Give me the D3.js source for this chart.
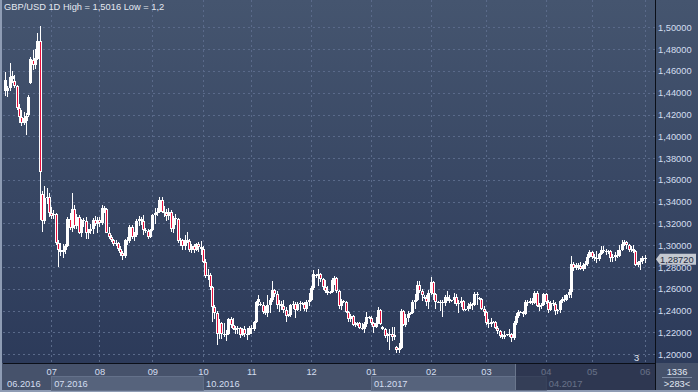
<!DOCTYPE html>
<html><head><meta charset="utf-8">
<script src="https://cdn.jsdelivr.net/npm/d3@7"></script>
<style>html,body{margin:0;padding:0;background:#2e3c5a;}svg{display:block}</style>
</head><body>
<svg id="c" width="698" height="392"></svg>
<script>
// ---- data: GBP/USD daily bars, 03.06.2016 - 01.06.2017 ----
const open = [
1.4420,1.4412,1.4440,1.4530,1.4510,1.4465,1.4262,1.4180,1.4120,1.4140,1.4200,1.4486,1.4700,1.4655,1.4706,1.4877,1.3470,1.3225,1.3430,1.3440,
1.3300,1.3280,1.3290,1.3025,1.2960,1.2940,1.2960,1.2990,1.3240,1.3160,1.3335,1.3180,1.3260,1.3110,1.3230,1.3220,1.3115,1.3130,1.3145,1.3230,1.3195,
1.3235,1.3200,1.3345,1.3330,1.3115,1.3080,1.3045,1.3010,1.3020,1.2970,1.2930,1.2905,1.3050,1.3035,1.3170,1.3080,1.3090,1.3220,1.3240,1.3220,1.3140,1.3130,1.3080,
1.3140,1.3280,1.3300,1.3310,1.3420,1.3310,1.3300,1.3270,1.3310,1.3150,1.3250,1.3240,1.3040,1.3050,1.2990,1.3050,1.3040,1.2960,1.2990,1.2960,1.3010,1.2980,
1.2970,1.2850,1.2720,1.2730,1.2620,1.2430,1.2380,1.2190,1.2290,1.2190,1.2180,1.2190,1.2320,1.2270,1.2230,1.2230,1.2240,1.2180,1.2230,1.2190,1.2190,
1.2240,1.2230,1.2300,1.2480,1.2460,1.2450,1.2390,1.2380,1.2450,1.2500,1.2590,1.2550,1.2450,1.2460,1.2440,1.2410,1.2350,1.2360,1.2450,1.2460,1.2410,1.2460,1.2470,1.2460,1.2420,1.2480,
1.2500,1.2610,1.2720,1.2730,1.2740,1.2690,1.2620,1.2580,1.2560,1.2570,1.2680,1.2700,1.2580,1.2440,1.2490,1.2480,1.2390,1.2320,1.2350,1.2270,1.2280,1.2285,1.2240,1.2230,1.2280,1.2340,
1.2330,1.2290,1.2250,1.2290,1.2410,1.2250,1.2230,1.2170,1.2180,1.2190,1.2160,1.2070,1.2040,1.2060,1.2400,1.2270,1.2330,1.2370,1.2380,1.2480,1.2500,1.2640,1.2580,1.2530,1.2520,1.2480,
1.2560,1.2660,1.2550,1.2480,1.2475,1.2480,1.2470,1.2530,1.2510,1.2490,1.2495,1.2530,1.2460,1.2470,1.2490,1.2410,1.2415,1.2440,1.2460,1.2450,1.2550,1.2520,1.2510,1.2420,
1.2390,1.2290,1.2280,1.2300,1.2295,1.2240,1.2210,1.2170,1.2160,1.2180,1.2185,1.2190,1.2150,1.2290,1.2350,1.2390,1.2385,1.2370,1.2480,1.2475,1.2490,1.2470,1.2560,1.2440,1.2445,1.2450,
1.2550,1.2480,1.2410,1.2470,1.2460,1.2400,1.2410,1.2490,1.2510,1.2500,1.2540,1.2570,1.2830,1.2790,1.2815,1.2810,1.2780,1.2820,1.2825,1.2890,
1.2940,1.2890,1.2880,1.2870,1.2920,1.2960,1.2950,1.2940,1.2945,1.2880,1.2890,1.2910,1.2900,1.2960,1.3010,1.3030,1.3000,1.2960,1.2970,1.2950,1.2820,1.2850,1.2860,
1.2880];
const high = [
1.4590,1.4460,1.4675,1.4600,1.4560,1.4475,1.4300,1.4240,1.4220,1.4210,1.4380,1.4730,1.4790,1.4800,1.4950,1.5016,1.3500,1.3540,1.3530,1.3480,
1.3350,1.3320,1.3300,1.3050,1.3020,1.3010,1.3010,1.3260,1.3300,1.3480,1.3370,1.3290,1.3280,1.3240,1.3250,1.3260,1.3150,1.3200,1.3250,1.3270,1.3260,
1.3260,1.3370,1.3360,1.3340,1.3170,1.3090,1.3060,1.3050,1.3030,1.2990,1.2945,1.3060,1.3080,1.3185,1.3190,1.3120,1.3240,1.3270,1.3260,1.3280,1.3160,1.3150,1.3150,
1.3290,1.3340,1.3340,1.3445,1.3440,1.3360,1.3330,1.3340,1.3320,1.3270,1.3290,1.3250,1.3070,1.3060,1.3090,1.3120,1.3060,1.3010,1.3010,1.3020,1.3030,1.3040,
1.2990,1.2870,1.2780,1.2745,1.2630,1.2450,1.2400,1.2320,1.2300,1.2290,1.2220,1.2330,1.2340,1.2330,1.2260,1.2260,1.2250,1.2240,1.2260,1.2240,1.2260,
1.2270,1.2310,1.2490,1.2540,1.2480,1.2480,1.2440,1.2545,1.2520,1.2670,1.2600,1.2580,1.2500,1.2490,1.2500,1.2430,1.2370,1.2460,1.2490,1.2480,1.2480,1.2490,1.2480,1.2480,1.2500,1.2560,
1.2630,1.2775,1.2740,1.2780,1.2750,1.2700,1.2680,1.2630,1.2580,1.2700,1.2720,1.2710,1.2590,1.2510,1.2500,1.2490,1.2400,1.2370,1.2360,1.2300,1.2300,1.2300,1.2290,1.2300,1.2390,1.2350,
1.2350,1.2300,1.2340,1.2430,1.2420,1.2260,1.2240,1.2200,1.2230,1.2250,1.2250,1.2080,1.2100,1.2415,1.2410,1.2370,1.2400,1.2390,1.2500,1.2550,1.2670,1.2670,1.2600,1.2540,1.2540,1.2590,
1.2710,1.2670,1.2560,1.2490,1.2500,1.2500,1.2540,1.2580,1.2540,1.2500,1.2560,1.2550,1.2500,1.2530,1.2500,1.2420,1.2470,1.2480,1.2470,1.2570,1.2570,1.2530,1.2520,1.2440,
1.2400,1.2320,1.2330,1.2310,1.2310,1.2260,1.2220,1.2190,1.2210,1.2190,1.2230,1.2200,1.2310,1.2380,1.2410,1.2400,1.2400,1.2500,1.2500,1.2520,1.2520,1.2580,1.2580,1.2470,1.2470,1.2560,
1.2560,1.2500,1.2490,1.2500,1.2480,1.2420,1.2500,1.2530,1.2540,1.2550,1.2600,1.2905,1.2850,1.2840,1.2840,1.2850,1.2840,1.2860,1.2920,1.2960,
1.2950,1.2920,1.2950,1.2930,1.2990,1.2990,1.2970,1.2960,1.2960,1.2920,1.2940,1.2960,1.3000,1.3050,1.3045,1.3040,1.3010,1.2990,1.3000,1.2960,1.2860,1.2880,1.2900,
1.2910];
const low = [
1.4370,1.4358,1.4420,1.4490,1.4440,1.4240,1.4120,1.4090,1.4100,1.4010,1.4180,1.4480,1.4610,1.4620,1.4700,1.3230,1.3120,1.3200,1.3380,1.3260,
1.3240,1.3240,1.3000,1.2798,1.2900,1.2880,1.2920,1.2980,1.3140,1.3120,1.3150,1.3150,1.3100,1.3080,1.3170,1.3060,1.3060,1.3100,1.3100,1.3180,1.3110,
1.3170,1.3190,1.3300,1.3110,1.3060,1.3030,1.2995,1.2990,1.2950,1.2900,1.2865,1.2880,1.3000,1.3020,1.3060,1.3040,1.3080,1.3180,1.3190,1.3090,1.3110,1.3060,1.3070,
1.3130,1.3200,1.3270,1.3300,1.3300,1.3260,1.3220,1.3230,1.3120,1.3110,1.3190,1.3020,1.2990,1.2960,1.2960,1.3020,1.2940,1.2930,1.2930,1.2950,1.2940,1.2910,
1.2840,1.2700,1.2680,1.2590,1.2300,1.2320,1.2085,1.2140,1.2140,1.2160,1.2120,1.2180,1.2240,1.2220,1.2190,1.2190,1.2150,1.2170,1.2160,1.2130,1.2180,
1.2190,1.2210,1.2290,1.2440,1.2440,1.2370,1.2360,1.2340,1.2380,1.2480,1.2530,1.2420,1.2390,1.2410,1.2380,1.2300,1.2340,1.2340,1.2420,1.2330,1.2400,1.2400,1.2450,1.2400,1.2390,1.2440,
1.2490,1.2590,1.2700,1.2630,1.2660,1.2590,1.2560,1.2540,1.2550,1.2560,1.2640,1.2560,1.2420,1.2410,1.2470,1.2380,1.2300,1.2300,1.2260,1.2250,1.2260,1.2230,1.2220,1.2200,1.2250,1.2320,
1.2270,1.2200,1.2240,1.2280,1.2270,1.2220,1.2150,1.2110,1.2040,1.2120,1.2130,1.2010,1.2009,1.2050,1.2260,1.2250,1.2300,1.2360,1.2370,1.2420,1.2490,1.2560,1.2490,1.2510,1.2440,1.2420,
1.2540,1.2500,1.2420,1.2470,1.2400,1.2345,1.2440,1.2490,1.2470,1.2480,1.2460,1.2440,1.2380,1.2430,1.2400,1.2400,1.2400,1.2420,1.2410,1.2440,1.2450,1.2500,1.2410,1.2350,
1.2270,1.2240,1.2250,1.2290,1.2230,1.2190,1.2150,1.2140,1.2140,1.2170,1.2160,1.2110,1.2130,1.2270,1.2330,1.2380,1.2340,1.2360,1.2440,1.2460,1.2450,1.2460,1.2430,1.2400,1.2420,1.2440,
1.2460,1.2380,1.2400,1.2440,1.2360,1.2370,1.2380,1.2470,1.2480,1.2490,1.2520,1.2520,1.2760,1.2770,1.2770,1.2770,1.2760,1.2780,1.2810,1.2880,
1.2870,1.2860,1.2840,1.2860,1.2910,1.2930,1.2910,1.2920,1.2850,1.2850,1.2860,1.2880,1.2890,1.2950,1.2990,1.2970,1.2940,1.2940,1.2930,1.2810,1.2800,1.2770,1.2830,
1.2840];
const close = [
1.4515,1.4440,1.4547,1.4555,1.4465,1.4262,1.4180,1.4120,1.4165,1.4190,1.4358,1.4706,1.4650,1.4718,1.4877,1.3675,1.3225,1.3430,1.3440,1.3300,
1.3270,1.3290,1.3025,1.2960,1.2940,1.2960,1.2990,1.3240,1.3160,1.3335,1.3180,1.3260,1.3110,1.3230,1.3220,1.3115,1.3130,1.3145,1.3230,1.3195,1.3235,
1.3200,1.3345,1.3330,1.3115,1.3080,1.3045,1.3010,1.3020,1.2970,1.2930,1.2905,1.3050,1.3035,1.3170,1.3080,1.3090,1.3220,1.3240,1.3220,1.3140,1.3130,1.3080,1.3140,
1.3280,1.3300,1.3310,1.3420,1.3310,1.3300,1.3270,1.3310,1.3150,1.3250,1.3240,1.3040,1.3050,1.2990,1.3050,1.3040,1.2960,1.2990,1.2960,1.3010,1.2980,1.2970,
1.2850,1.2720,1.2730,1.2620,1.2430,1.2380,1.2190,1.2290,1.2190,1.2180,1.2190,1.2320,1.2270,1.2230,1.2230,1.2240,1.2180,1.2230,1.2190,1.2190,1.2240,
1.2230,1.2300,1.2480,1.2510,1.2450,1.2390,1.2380,1.2450,1.2500,1.2590,1.2550,1.2450,1.2460,1.2440,1.2410,1.2350,1.2360,1.2450,1.2460,1.2410,1.2460,1.2470,1.2460,1.2420,1.2480,1.2500,
1.2610,1.2740,1.2730,1.2740,1.2690,1.2620,1.2580,1.2560,1.2570,1.2680,1.2700,1.2580,1.2440,1.2490,1.2480,1.2390,1.2320,1.2350,1.2270,1.2280,1.2285,1.2240,1.2230,1.2280,1.2340,1.2330,
1.2290,1.2250,1.2290,1.2410,1.2280,1.2230,1.2170,1.2180,1.2190,1.2160,1.2180,1.2040,1.2060,1.2400,1.2270,1.2330,1.2370,1.2380,1.2480,1.2500,1.2640,1.2580,1.2540,1.2520,1.2480,1.2560,
1.2660,1.2550,1.2480,1.2475,1.2480,1.2470,1.2530,1.2510,1.2490,1.2495,1.2530,1.2460,1.2470,1.2490,1.2410,1.2415,1.2440,1.2460,1.2450,1.2550,1.2540,1.2510,1.2420,1.2390,
1.2290,1.2280,1.2300,1.2295,1.2240,1.2210,1.2170,1.2160,1.2180,1.2185,1.2190,1.2150,1.2290,1.2350,1.2390,1.2385,1.2370,1.2480,1.2475,1.2490,1.2470,1.2560,1.2440,1.2445,1.2450,1.2550,
1.2480,1.2410,1.2470,1.2460,1.2400,1.2410,1.2490,1.2510,1.2500,1.2540,1.2570,1.2830,1.2790,1.2815,1.2810,1.2780,1.2820,1.2825,1.2890,1.2940,
1.2890,1.2880,1.2870,1.2920,1.2960,1.2950,1.2940,1.2945,1.2880,1.2890,1.2910,1.2900,1.2960,1.3010,1.3030,1.3000,1.2960,1.2970,1.2950,1.2820,1.2850,1.2860,1.2880,
1.2872];
const monthTicks  = [20,41,64,86,107,133,159,185,209,235,255,278];
const monthLabels = ['07','08','09','10','11','12','01','02','03','04','05','06'];
const quarterTicks  = [0,20,86,159,235];
const quarterLabels = ['06.2016','07.2016','10.2016','01.2017','04.2017'];
const priceTicks = [1.20,1.22,1.24,1.26,1.28,1.30,1.32,1.34,1.36,1.38,1.40,1.42,1.44,1.46,1.48,1.50];
const title = 'GBP/USD 1D High = 1,5016 Low = 1,2';
const lastPrice = 1.28720;
const barsTotal = 283;

// ---- drawing ----
const W = 698, H = 392;
const L = 3, R = 655, B = 363;
const FONT = '"Liberation Sans", Arial, sans-serif';
const svg = d3.select('#c');
const defs = svg.append('defs');
const gr = defs.append('linearGradient').attr('id','bg').attr('x1',0).attr('y1',0).attr('x2',0).attr('y2',1);
gr.append('stop').attr('offset','0%').attr('stop-color','#45556f');
gr.append('stop').attr('offset','100%').attr('stop-color','#2a3858');

svg.append('rect').attr('width',W).attr('height',H).attr('fill','url(#bg)');
// bottom axis strip
svg.append('rect').attr('x',0).attr('y',B).attr('width',W).attr('height',H-B).attr('fill','#46526b');

const x = d3.scaleLinear().domain([-0.5, barsTotal-0.5]).range([L+1, R]);
const y = d3.scaleLinear().domain([1.2, 1.5]).range([354.3, 27.3]);
const px = v => Math.round(v) + 0.5;

// grid
const grid = svg.append('g');
grid.selectAll('line.h').data(priceTicks).join('line')
  .attr('x1',L).attr('x2',R).attr('y1',d=>px(y(d))).attr('y2',d=>px(y(d)))
  .attr('stroke','#5a6a8a').attr('stroke-dasharray','2,3');
grid.selectAll('line.v').data(monthTicks).join('line')
  .attr('y1',0).attr('y2',B).attr('x1',d=>px(x(d))).attr('x2',d=>px(x(d)))
  .attr('stroke','#5a6a8a').attr('stroke-dasharray','2,3');

// candles
const idx = d3.range(close.length);
const cg = svg.append('g').attr('shape-rendering','crispEdges');
cg.selectAll('line.w').data(idx).join('line')
  .attr('x1',i=>Math.round(x(i))+0.5).attr('x2',i=>Math.round(x(i))+0.5)
  .attr('y1',i=>y(high[i])).attr('y2',i=>y(low[i]))
  .attr('stroke','#ffffff').attr('stroke-width',1);
cg.selectAll('rect.b').data(idx).join('rect')
  .attr('x',i=>Math.round(x(i))-1)
  .attr('width',3)
  .attr('y',i=>Math.round(y(Math.max(open[i],close[i]))))
  .attr('height',i=>Math.max(1,Math.round(y(Math.min(open[i],close[i])))-Math.round(y(Math.max(open[i],close[i])))))
  .attr('fill','#ffffff');
cg.selectAll('rect.r').data(idx.filter(i=>close[i]<open[i])).join('rect')
  .attr('x',i=>Math.round(x(i)))
  .attr('width',1)
  .attr('y',i=>Math.round(y(open[i]))+1)
  .attr('height',i=>Math.max(0,Math.round(y(close[i]))-Math.round(y(open[i]))-2))
  .attr('fill','#e8103c');

// frame lines
svg.append('line').attr('x1',L).attr('x2',R).attr('y1',B+0.5).attr('y2',B+0.5).attr('stroke','#0b0f18');
svg.append('line').attr('x1',R+0.5).attr('x2',R+0.5).attr('y1',0).attr('y2',H).attr('stroke','#0b0f18');
svg.append('rect').attr('x',0).attr('y',0).attr('width',2).attr('height',H).attr('fill','#8e9cb4');
svg.append('rect').attr('x',0).attr('y',H-2).attr('width',W).attr('height',2).attr('fill','#8e9cb4');

// price axis
const ya = d3.axisRight(y).tickValues(priceTicks).tickSize(0).tickPadding(0)
  .tickFormat(d=>d.toFixed(5).replace('.',','));
const yg = svg.append('g').attr('transform',`translate(${R+3},0)`).call(ya);
yg.select('.domain').remove();
yg.selectAll('text').attr('fill','#d4def0').attr('font-family',FONT).attr('font-size',9.3).attr('dy','0.33em');

// quarter boxes
[[1,2],[3,4]].forEach(([a,b])=>{
  svg.append('rect').attr('x',px(x(quarterTicks[a]))).attr('y',376.5)
    .attr('width',x(quarterTicks[b])-x(quarterTicks[a])).attr('height',14)
    .attr('fill','#56637c').attr('stroke','#64718a');
});

// month axis
const xa = d3.axisBottom(x).tickValues(monthTicks).tickSize(0).tickPadding(0)
  .tickFormat((d,i)=>monthLabels[i]);
const xg = svg.append('g').attr('transform',`translate(0,${B+5})`).call(xa);
xg.select('.domain').remove();
xg.selectAll('text').attr('fill','#d4def0').attr('font-family',FONT).attr('font-size',9.3);

svg.append('g').selectAll('text').data(quarterTicks).join('text')
  .attr('x',(d,i)=> i===0 ? 7 : x(d)+3).attr('y',386.5)
  .attr('fill','#d4def0').attr('font-family',FONT).attr('font-size',9.3)
  .text((d,i)=>quarterLabels[i]);

// dark overlay at right of time axis
svg.append('rect').attr('x',515).attr('y',B+1).attr('width',R-515).attr('height',H-B-3)
  .attr('fill','#1e2740').attr('opacity',0.6);
svg.append('line').attr('x1',515.5).attr('x2',515.5).attr('y1',B+1).attr('y2',H-2).attr('stroke','#6a768c');

// bottom-right counters
svg.append('text').attr('x',677).attr('y',374.5).attr('text-anchor','middle')
  .attr('fill','#e2e8f2').attr('font-family',FONT).attr('font-size',9.3).text('1336');
svg.append('line').attr('x1',662).attr('x2',692).attr('y1',377.5).attr('y2',377.5).attr('stroke','#7d8aa2');
svg.append('text').attr('x',677).attr('y',387).attr('text-anchor','middle')
  .attr('fill','#e2e8f2').attr('font-family',FONT).attr('font-size',9.3).text('>283<');

// small "3" marker
svg.append('text').attr('x',634).attr('y',361).attr('fill','#e2e8f2')
  .attr('font-family',FONT).attr('font-size',9.3).text('3');

// last price marker (drawn over the axis labels, as in the terminal)
const ly = y(lastPrice);
svg.append('path')
  .attr('d',`M${R+1},${ly} L${R+5},${ly-5.5} L${W-2},${ly-5.5} L${W-2},${ly+5.5} L${R+5},${ly+5.5} Z`)
  .attr('fill','#c4c8d0');
svg.append('text').attr('x',R+5).attr('y',ly).attr('dy','0.35em')
  .attr('fill','#1e2a40').attr('font-family',FONT).attr('font-size',9.3)
  .text(lastPrice.toFixed(5).replace('.',','));

// title
svg.append('text').attr('x',4).attr('y',10.3).attr('fill','#e4e9f1')
  .attr('font-family',FONT).attr('font-size',9.3).text(title);
</script>
</body></html>
